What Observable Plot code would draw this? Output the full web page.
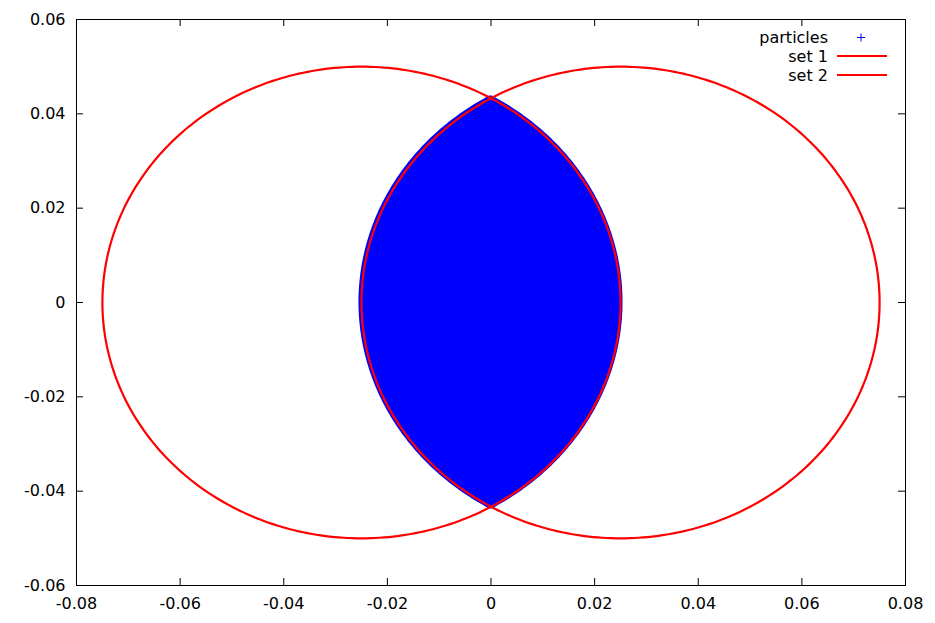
<!DOCTYPE html>
<html>
<head>
<meta charset="utf-8">
<script src="https://cdn.jsdelivr.net/npm/d3@7"></script>
<script src="https://cdn.jsdelivr.net/npm/@observablehq/plot@0.6"></script>
<style>
  html, body { margin: 0; padding: 0; background: white; }
  #chart { width: 935px; height: 623px; }
</style>
</head>
<body>
<div id="chart"></div>
<script>
// ---- data ----
const setNames = ["set 1", "set 2"];
const setCenterX = [-0.025, 0.025];
const setCenterY = [0, 0];
const setRadiusX = [0.05, 0.05];
const setRadiusY = [0.05, 0.05];
const xTicks = [-0.08, -0.06, -0.04, -0.02, 0, 0.02, 0.04, 0.06, 0.08];
const yTicks = [-0.06, -0.04, -0.02, 0, 0.02, 0.04, 0.06];
const legendLabels = ["particles", "set 1", "set 2"];

// ---- derived tables ----
const circlePts = [];
setNames.forEach((name, k) => {
  for (let i = 0; i <= 360; i++) {
    const t = i * Math.PI / 180;
    circlePts.push({set: name, x: setCenterX[k] + setRadiusX[k] * Math.cos(t), y: setCenterY[k] + setRadiusY[k] * Math.sin(t)});
  }
});
// particle region: the overlap (lens) of the two sets
const d = (setCenterX[1] - setCenterX[0]) / 2;
const r = setRadiusX[0];
const yTip = setRadiusY[0] * Math.sqrt(1 - (d / r) ** 2);
const lens = d3.range(0, 401).map(i => {
  const y = -yTip + 2 * yTip * i / 400;
  const s = Math.sqrt(Math.max(0, 1 - (y / setRadiusY[0]) ** 2));
  return {y, x1: setCenterX[1] - setRadiusX[1] * s, x2: setCenterX[0] + setRadiusX[0] * s};
});

const fmt = v => (Math.abs(v) < 1e-12 ? "0" : v.toFixed(2));

const W = 935, H = 623, mL = 76, mR = 30, mT = 19, mB = 38;
const innerW = W - mL - mR, innerH = H - mT - mB;
const tickLen = 7;

const chart = Plot.plot({
  width: W, height: H,
  marginLeft: mL, marginRight: mR, marginTop: mT, marginBottom: mB,
  x: {domain: [-0.08, 0.08], label: null},
  y: {domain: [-0.06, 0.06], label: null},
  style: {fontFamily: "'DejaVu Sans', sans-serif", fontSize: "16px", background: "white", color: "black"},
  marks: [
    Plot.areaX(lens, {y: "y", x1: "x1", x2: "x2", fill: "#0000ff", stroke: "#0000ff", strokeWidth: 5, strokeLinejoin: "miter"}),
    Plot.line(circlePts, {x: "x", y: "y", z: "set", stroke: "#ff0000", strokeWidth: 2.2, curve: "linear"}),
    Plot.tickX(xTicks, {x: v => v, insetTop: innerH - tickLen, stroke: "black"}),
    Plot.tickX(xTicks, {x: v => v, insetBottom: innerH - tickLen, stroke: "black"}),
    Plot.tickY(yTicks, {y: v => v, insetRight: innerW - tickLen, stroke: "black"}),
    Plot.tickY(yTicks, {y: v => v, insetLeft: innerW - tickLen, stroke: "black"}),
    Plot.axisX({ticks: xTicks, tickSize: 0, tickPadding: 12, tickFormat: fmt, fontSize: 16, label: null}),
    Plot.axisY({ticks: yTicks, tickSize: 0, tickPadding: 11, tickFormat: fmt, fontSize: 16, label: null}),
    Plot.frame({stroke: "black", strokeWidth: 1})
  ]
});
document.getElementById("chart").appendChild(chart);

// ---- legend (gnuplot style, top-right inside the frame) ----
const svg = d3.select(chart);
const g = svg.append("g").attr("font-family", "'DejaVu Sans', sans-serif").attr("font-size", 16);
const rowY = [37, 56, 75];
legendLabels.forEach((lab, i) => {
  g.append("text").attr("x", 828).attr("y", rowY[i]).attr("dy", "0.35em")
    .attr("text-anchor", "end").attr("fill", "black").text(lab);
});
// particles sample: blue "+"
g.append("line").attr("x1", 857).attr("x2", 865).attr("y1", 37.5).attr("y2", 37.5).attr("stroke", "#0000ff").attr("stroke-width", 1);
g.append("line").attr("x1", 861).attr("x2", 861).attr("y1", 33.5).attr("y2", 41.5).attr("stroke", "#0000ff").attr("stroke-width", 1);
[56, 75].forEach(y => {
  g.append("line").attr("x1", 837).attr("x2", 887).attr("y1", y).attr("y2", y).attr("stroke", "#ff0000").attr("stroke-width", 2);
});
</script>
</body>
</html>
